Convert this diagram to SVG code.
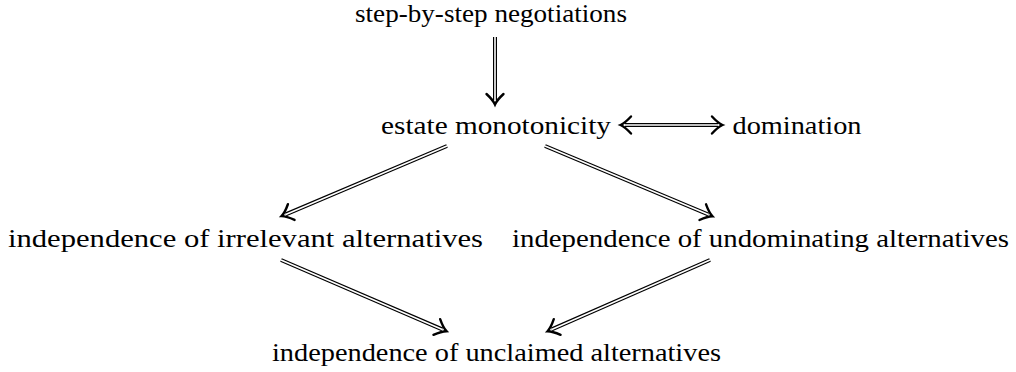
<svg xmlns="http://www.w3.org/2000/svg" width="1016" height="372" viewBox="0 0 1016 372">
<style>
text{font-family:"Liberation Serif","Times New Roman",serif;font-size:25px;fill:#000;text-anchor:middle}
.o{stroke:#000;stroke-width:4;fill:none}
.hh{stroke:#fff;stroke-width:1.6;fill:none;marker-end:url(#imp);marker-start:url(#imp)}
</style>
<defs>
<marker id="imp" markerUnits="userSpaceOnUse" markerWidth="30" markerHeight="30" refX="0" refY="0" orient="auto-start-reverse" overflow="visible">
<path d="M-6,-8.5 Q0,-2 4.5,0 Q0,2 -6,8.5" fill="none" stroke="#000" stroke-width="2.4" stroke-linecap="round"/>
</marker>
</defs>
<g id="nodes">
<g id="n1"><text x="491" y="22" textLength="272" lengthAdjust="spacingAndGlyphs">step-by-step negotiations</text></g>
<g id="n2"><text x="496" y="134" textLength="230" lengthAdjust="spacingAndGlyphs">estate monotonicity</text></g>
<g id="n3"><text x="797" y="134" textLength="129" lengthAdjust="spacingAndGlyphs">domination</text></g>
<g id="n4"><text x="245.5" y="247" textLength="475" lengthAdjust="spacingAndGlyphs">independence of irrelevant alternatives</text></g>
<g id="n5"><text x="760.5" y="247" textLength="497" lengthAdjust="spacingAndGlyphs">independence of undominating alternatives</text></g>
<g id="n6"><text x="496.5" y="361" textLength="449" lengthAdjust="spacingAndGlyphs">independence of unclaimed alternatives</text></g>
</g>
<g id="connectors">
<g><path class="o" d="M495,37 L495,100"/><path class="hh" style="marker-start:none" d="M495,37 L495,100"/></g>
<g><path class="o" d="M625,125 L718,125"/><path class="hh" d="M625,125 L718,125"/></g>
<g><path class="o" d="M447,146 L285.7,214.4"/><path class="hh" style="marker-start:none" d="M447,146 L285.7,214.4"/></g>
<g><path class="o" d="M545,146 L708.3,214.5"/><path class="hh" style="marker-start:none" d="M545,146 L708.3,214.5"/></g>
<g><path class="o" d="M281,260 L442.3,329.4"/><path class="hh" style="marker-start:none" d="M281,260 L442.3,329.4"/></g>
<g><path class="o" d="M710,260 L551.7,329.4"/><path class="hh" style="marker-start:none" d="M710,260 L551.7,329.4"/></g>
</g>
</svg>
